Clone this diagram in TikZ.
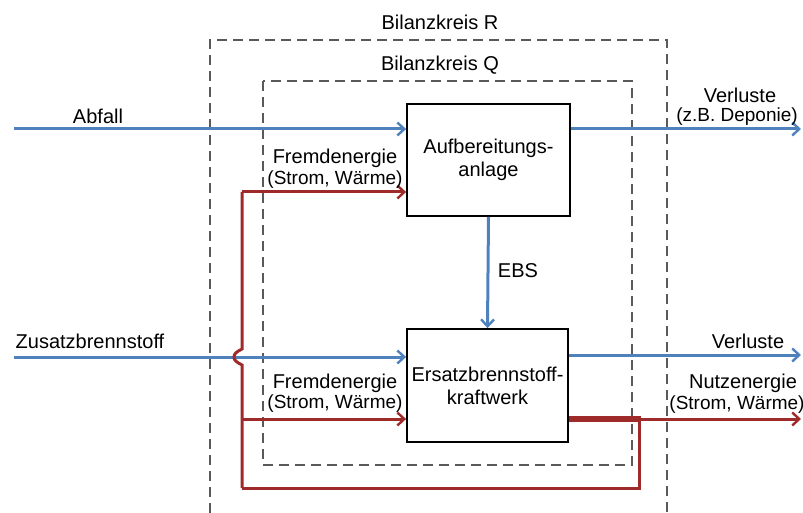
\documentclass[tikz,border=0pt]{standalone}
\usepackage{fontspec}
\setmainfont{Liberation Sans}
\usetikzlibrary{arrows.meta}
\definecolor{flowblue}{RGB}{79,129,189}
\definecolor{flowred}{RGB}{158,42,42}
\definecolor{dashgray}{RGB}{90,90,90}
\tikzset{
  bluef/.style={draw=flowblue, line width=3pt, -{Straight Barb[length=7pt,width=13pt,line width=2.4pt]}},
  bluel/.style={draw=flowblue, line width=3pt},
  redf/.style={draw=flowred, line width=3pt, -{Straight Barb[length=7pt,width=13pt,line width=2.4pt]}},
  redl/.style={draw=flowred, line width=3pt, line join=miter},
  bilanz/.style={draw=dashgray, line width=1.6pt, dash pattern=on 10pt off 6pt},
  plant/.style={draw=black, line width=1.8pt, fill=white, align=center, font=\fontsize{20}{23}\selectfont},
  lbl/.style={font=\fontsize{20}{23}\selectfont, inner sep=0pt},
  lbls/.style={font=\fontsize{19}{22}\selectfont, inner sep=0pt}
}
\begin{document}
\begin{tikzpicture}[x=1pt,y=-1pt]
\useasboundingbox (0,0) rectangle (803,513);
% balance boundaries
\draw[bilanz] (210,513) -- (210,40) -- (667,40) -- (667,513);
\draw[bilanz] (263,81) rectangle (632,465);
\node[lbl] (lR) at (440,22) {Bilanzkreis R};
\node[lbl] (lQ) at (440,65) {Bilanzkreis Q};
% plants
\node[plant, minimum width=163pt, minimum height=112pt] (A) at (488.5,160) {Aufbereitungs-\\anlage};
\node[plant, minimum width=161pt, minimum height=113pt] (K) at (487.5,385.5) {Ersatzbrennstoff-\\kraftwerk};
% coordinates
\coordinate (abfIn) at (14,129);
\coordinate (verlA) at (801,129);
\coordinate (zusIn) at (14,357);
\coordinate (verlK) at (801,355);
\coordinate (nutz) at (801,419);
\coordinate (rTop) at (242,192);
\coordinate (rMid) at (242,419);
\coordinate (rBot) at (242,488);
\coordinate (jR) at (639,419);
\coordinate (jB) at (639,488);
% blue flows
\draw[bluef] (abfIn) -- (abfIn -| A.west);
\draw[bluef] (A.east |- verlA) -- (verlA);
\draw[bluef] (A.south) -- (K.north);
\draw[bluef] (zusIn) -- (zusIn -| K.west);
\draw[bluef] (K.east |- verlK) -- (verlK);
% red flows
\draw[redl] (rBot) -- (jB) -- (jR);
\draw[redl] (rBot) -- (242,365) .. controls (236,362) and (234,360) .. (234,357) .. controls (234,354) and (236,352) .. (242,349) -- (rTop);
\draw[redf] (rTop) -- (rTop -| A.west);
\draw[redf] (rMid) -- (rMid -| K.west);
\draw[draw=flowred, line width=6pt] (K.east |- jR) -- ([xshift=2pt]jR);
\draw[redf] (jR) -- (nutz);
% labels
\node[lbl] (tAbf) at (98,116) {Abfall};
\node[lbl] (tZus) at (90,341) {Zusatzbrennstoff};
\node[lbl] (tF1) at (335,158) {Fremdenergie};
\node[lbls] (tF1b) at (335,180) {(Strom, Wärme)};
\node[lbl] (tF2) at (335,383) {Fremdenergie};
\node[lbls] (tF2b) at (335,404) {(Strom, Wärme)};
\node[lbl] (tEBS) at (518,271) {EBS};
\node[lbl] (tV1) at (740,95) {Verluste};
\node[lbls] (tV1b) at (737,117) {(z.B. Deponie)};
\node[lbl] (tV2) at (748,341) {Verluste};
\node[lbl] (tN) at (743,383) {Nutzenergie};
\node[lbls] (tNb) at (737,405) {(Strom, Wärme)};
\end{tikzpicture}
\end{document}
